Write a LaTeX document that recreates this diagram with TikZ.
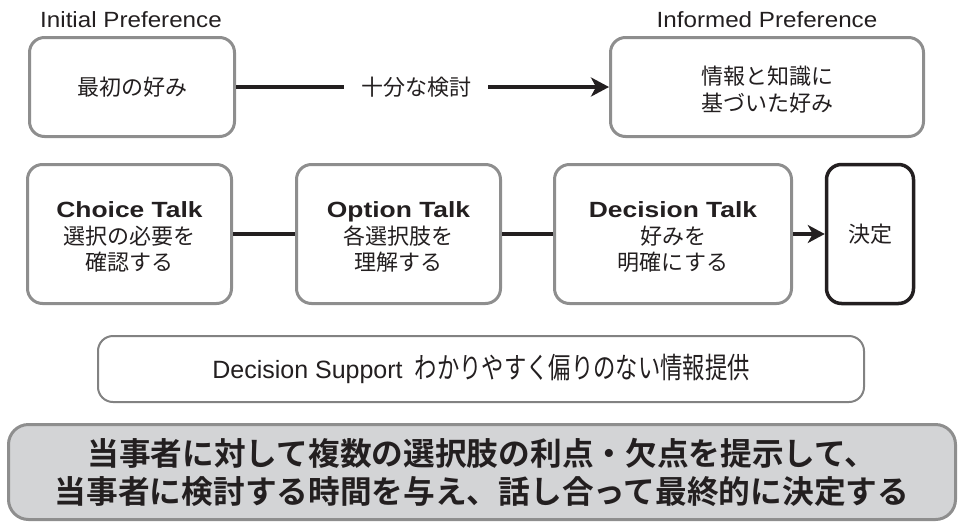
\documentclass[tikz,border=0pt]{standalone}
\usepackage{fontspec}
\setmainfont{Liberation Sans}
\newfontfamily\jp{Noto Sans CJK JP}[BoldFont={Noto Sans CJK JP Bold}]
\newfontfamily\jpnarrow{Noto Sans CJK JP}[FakeStretch=0.77]
\newfontfamily\latwide{Liberation Sans}[FakeStretch=1.1]
\newfontfamily\latwider{Liberation Sans}[FakeStretch=1.2]
\usetikzlibrary{arrows.meta}

% invisible strut that lowers a centred block of lines a little
\newcommand\toppad[1]{\rule{0pt}{#1}}

\definecolor{ink}{HTML}{231F20}
\definecolor{edgegray}{HTML}{8E8E8E}
\definecolor{supportgray}{HTML}{828282}
\definecolor{panelgray}{HTML}{D3D4D6}

\tikzset{
  softbox/.style={draw=edgegray, line width=3pt, rounded corners=15pt,
    fill=white, inner sep=0pt, align=center, text=ink,
    font=\fontsize{22pt}{26.5pt}\selectfont},
  finalbox/.style={softbox, draw=ink, line width=3.5pt},
  supportbox/.style={draw=supportgray, line width=2pt, rounded corners=15pt,
    fill=white, inner sep=0pt, text=ink},
  summarybox/.style={draw=edgegray, line width=3pt, rounded corners=20pt,
    fill=panelgray, inner sep=0pt, align=center, text=ink,
    font=\jp\bfseries\fontsize{31.7pt}{38pt}\selectfont},
  caption/.style={text=ink, anchor=base, inner sep=0pt,
    font=\latwide\fontsize{22pt}{26pt}\selectfont},
  link/.style={draw=ink, line width=3.3pt},
  flow/.style={link, -{Stealth[length=18pt, width=19pt, inset=5pt]}},
}

\begin{document}
\begin{tikzpicture}[x=1pt, y=-1pt]
\useasboundingbox (0,0) rectangle (960,525);

% preference row
\node[softbox, minimum width=205pt, minimum height=99pt] (init) at (132,87)
  {\jp 最初の好み};
\node[softbox, minimum width=313pt, minimum height=99pt] (informed) at (767,87)
  {\toppad{24pt}\jp 情報と知識に\\\jp 基づいた好み};
\node[caption] (initlbl) at (131,27) {Initial Preference};
\node[caption] (informedlbl) at (767,27) {Informed Preference};
\node[text=ink, inner ysep=0pt, inner xsep=17pt,
  font=\jp\fontsize{22pt}{26pt}\selectfont] (review) at (416,87) {十分な検討};
\draw[link] (init.east) -- (review.west);
\draw[flow] (review.east) -- (informed.west);

% talk model row
\node[softbox, minimum width=204pt, minimum height=139pt] (choice) at (129.5,234)
  {\toppad{22pt}{\latwider\bfseries Choice Talk}\\\jp 選択の必要を\\\jp 確認する};
\node[softbox, minimum width=204pt, minimum height=139pt] (option) at (398.5,234)
  {\toppad{22pt}{\latwider\bfseries Option Talk}\\\jp 各選択肢を\\\jp 理解する};
\node[softbox, minimum width=237pt, minimum height=139pt] (decision) at (673,234)
  {\toppad{22pt}{\latwider\bfseries Decision Talk}\\\jp 好みを\\\jp 明確にする};
\node[finalbox, minimum width=87pt, minimum height=139pt] (final) at (870,234)
  {\jp 決定};
\draw[link] (choice) -- (option);
\draw[link] (option) -- (decision);
\draw[link, -{Stealth[length=17pt, width=18pt, inset=5pt]}] (decision) -- (final);

% support and summary
\node[supportbox, minimum width=766pt, minimum height=66pt] (support) at (481,369)
  {\fontsize{25pt}{30pt}\selectfont Decision Support\hspace{12pt}%
   {\jpnarrow\fontsize{29pt}{30pt}\selectfont わかりやすく偏りのない情報提供}};
\node[summarybox, minimum width=947pt, minimum height=95pt] (summary) at (482,472)
  {当事者に対して複数の選択肢の利点・欠点を提示して、\\
   当事者に検討する時間を与え、話し合って最終的に決定する};
\end{tikzpicture}
\end{document}
